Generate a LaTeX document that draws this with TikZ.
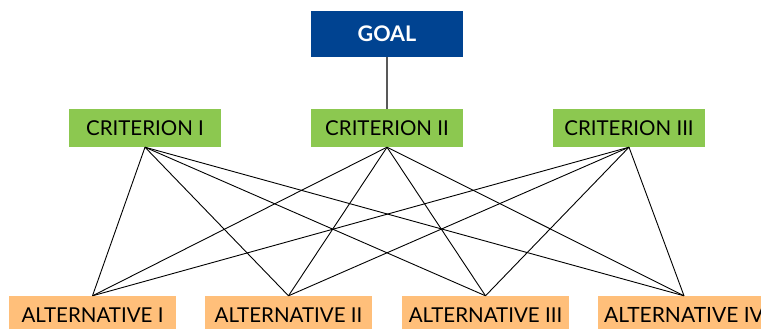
\documentclass[tikz,border=0pt]{standalone}
\usepackage{fontspec}
\setmainfont{Lato}
\definecolor{goalblue}{HTML}{004391}
\definecolor{critgreen}{HTML}{8CC850}
\definecolor{altorange}{HTML}{FFBF7A}
\begin{document}
\begin{tikzpicture}[x=1pt,y=-1pt,
  goalbox/.style={fill=goalblue,text=white,font=\fontsize{21.5}{24}\selectfont\bfseries,minimum width=152pt,minimum height=46pt,inner sep=0pt},
  critbox/.style={fill=critgreen,text=black,font=\fontsize{20.5}{24}\selectfont,minimum width=152pt,minimum height=38pt,inner sep=0pt},
  altbox/.style={fill=altorange,text=black,font=\fontsize{20.5}{24}\selectfont,minimum width=167pt,minimum height=38pt,inner sep=0pt},
  link/.style={draw=black,line width=0.9pt}]
\useasboundingbox (0,0) rectangle (761,329);
\node[goalbox] (goal) at (387,34) {GOAL};
\node[critbox] (c1) at (145,128) {CRITERION I};
\node[critbox] (c2) at (387,128) {CRITERION II};
\node[critbox] (c3) at (629,128) {CRITERION III};
\node[altbox] (a1) at (92.5,315) {ALTERNATIVE I};
\node[altbox] (a2) at (288.5,315) {ALTERNATIVE II};
\node[altbox] (a3) at (485.5,315) {ALTERNATIVE III};
\node[altbox,minimum width=172pt,font=\fontsize{21}{24}\selectfont] (a4) at (684,315) {ALTERNATIVE IV};
\draw[draw=black!65,line width=1.5pt] (goal.south) -- (c2.north);
\foreach \c in {c1,c2,c3}{
  \foreach \a in {a1,a2,a3,a4}{
    \draw[link] (\c.south) -- (\a.north);
  }
}
\end{tikzpicture}
\end{document}
